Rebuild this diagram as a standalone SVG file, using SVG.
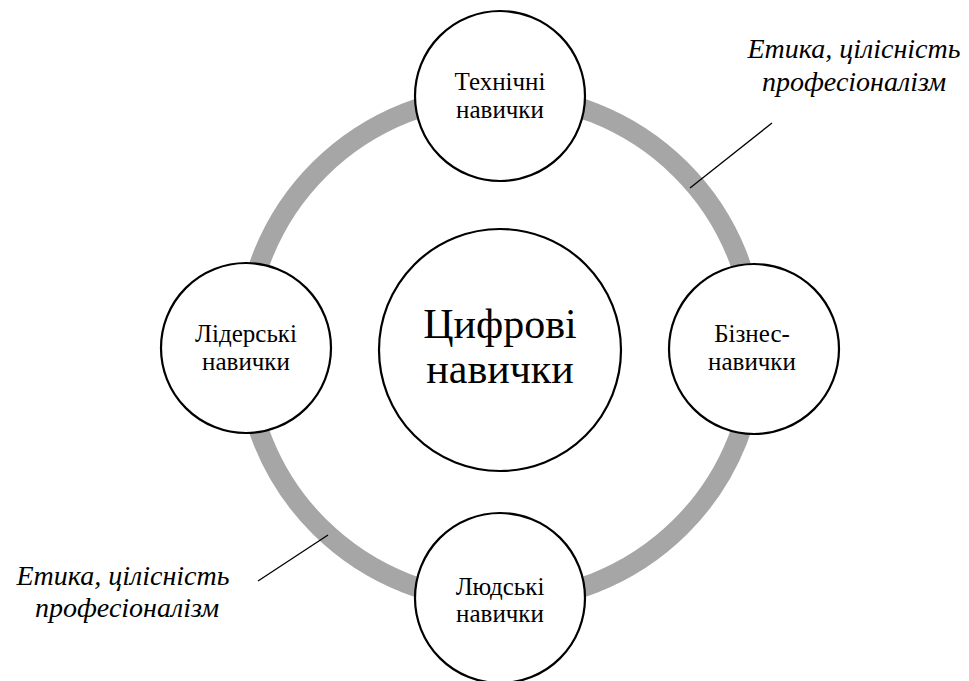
<svg xmlns="http://www.w3.org/2000/svg" width="969" height="681" viewBox="0 0 969 681" xml:lang="uk">
  <style>
    .node { fill: #ffffff; stroke: #000000; stroke-width: 2.2; }
    .ring { fill: none; stroke: #a6a6a6; stroke-width: 20; }
    .leader { stroke: #000000; stroke-width: 1.3; fill: none; }
  </style>
  <rect width="969" height="681" fill="#ffffff"/>

  <!-- grey ring joining the four skill circles, and the two label leaders -->
  <g id="connectors">
    <ellipse class="ring" cx="500" cy="348" rx="255" ry="253"/>
    <line class="leader" x1="772" y1="123" x2="690" y2="188"/>
    <line class="leader" x1="258" y1="581" x2="328" y2="535"/>
  </g>

  <g id="center">
    <circle class="node" cx="500" cy="350" r="121"/>
    <text x="500" y="338" text-anchor="middle" font-size="42" font-family="Liberation Serif" style="font-family: 'Liberation Serif'">Цифрові</text>
    <text x="500" y="383" text-anchor="middle" font-size="42" font-family="Liberation Serif" style="font-family: 'Liberation Serif'">навички</text>
  </g>

  <g id="technical">
    <circle class="node" cx="500" cy="96" r="85"/>
    <text x="500" y="90" text-anchor="middle" font-size="25" font-family="Liberation Serif" style="font-family: 'Liberation Serif'">Технічні</text>
    <text x="500" y="118" text-anchor="middle" font-size="25" font-family="Liberation Serif" style="font-family: 'Liberation Serif'">навички</text>
  </g>

  <g id="leadership">
    <circle class="node" cx="246" cy="348" r="85"/>
    <text x="246" y="342" text-anchor="middle" font-size="25" font-family="Liberation Serif" style="font-family: 'Liberation Serif'">Лідерські</text>
    <text x="246" y="370" text-anchor="middle" font-size="25" font-family="Liberation Serif" style="font-family: 'Liberation Serif'">навички</text>
  </g>

  <g id="business">
    <circle class="node" cx="754" cy="349" r="85"/>
    <text x="752" y="342" text-anchor="middle" font-size="25" font-family="Liberation Serif" style="font-family: 'Liberation Serif'">Бізнес-</text>
    <text x="752" y="370" text-anchor="middle" font-size="25" font-family="Liberation Serif" style="font-family: 'Liberation Serif'">навички</text>
  </g>

  <g id="human">
    <circle class="node" cx="500" cy="598" r="85"/>
    <text x="500" y="595" text-anchor="middle" font-size="25" font-family="Liberation Serif" style="font-family: 'Liberation Serif'">Людські</text>
    <text x="500" y="622" text-anchor="middle" font-size="25" font-family="Liberation Serif" style="font-family: 'Liberation Serif'">навички</text>
  </g>

  <g id="note-top">
    <text x="854" y="58" text-anchor="middle" font-size="28" font-style="italic" font-family="Liberation Serif" style="font-family: 'Liberation Serif'">Етика, цілісність</text>
    <text x="854" y="91" text-anchor="middle" font-size="28" font-style="italic" font-family="Liberation Serif" style="font-family: 'Liberation Serif'">професіоналізм</text>
  </g>

  <g id="note-bottom">
    <text x="123" y="585" text-anchor="middle" font-size="28" font-style="italic" font-family="Liberation Serif" style="font-family: 'Liberation Serif'">Етика, цілісність</text>
    <text x="127" y="617" text-anchor="middle" font-size="28" font-style="italic" font-family="Liberation Serif" style="font-family: 'Liberation Serif'">професіоналізм</text>
  </g>
</svg>
